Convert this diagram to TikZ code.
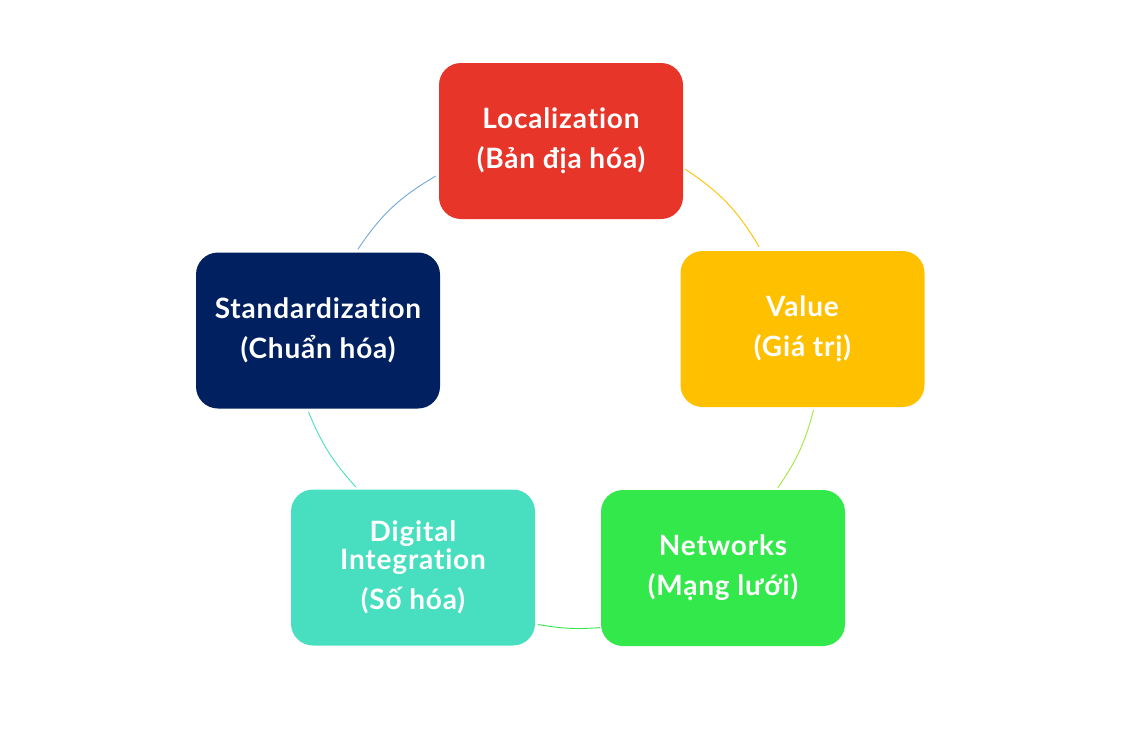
\documentclass[tikz,border=0pt]{standalone}
\usepackage{fontspec}
\setmainfont{Lato}[Ligatures=NoCommon, LetterSpace=3]
\usepackage{tikz}
\definecolor{locred}{HTML}{E8352A}
\definecolor{valyellow}{HTML}{FFC000}
\definecolor{netgreen}{HTML}{33E84A}
\definecolor{digteal}{HTML}{48DFC0}
\definecolor{stdnavy}{HTML}{002060}
\definecolor{arcblue}{HTML}{6FA8DC}
\definecolor{arclime}{HTML}{A2E83C}
\tikzset{
    phase/.style={
           rectangle,
           rounded corners=22pt,
           minimum width=244pt,
           minimum height=156pt,
           inner sep=2pt,
           text=white,
           align=center,
           font=\fontsize{28}{40}\selectfont\bfseries,
           },
    cycle/.style={
           line width=0.9pt,
           bend right=#1,
           },
}

\begin{document}
\begin{tikzpicture}[x=1pt,y=-1pt]
    \useasboundingbox (0,0) rectangle (1129,753);

    % Phase: top of the cycle
    \node[phase, fill=locred,  	% layout (defined above)
    anchor=center] (loc) at (561,141)
    {Localization\\(Bản địa hóa)};

    \node[phase, fill=valyellow,
    anchor=center] (val) at (802.5,329)
    {Value\\(Giá trị)};

    \node[phase, fill=netgreen,
    anchor=center] (net) at (723,568)
    {Networks\\(Mạng lưới)};

    \node[phase, fill=digteal,
    anchor=center] (dig) at (413,567.5)
    {Digital\\[-12pt]Integration\\(Số hóa)};

    \node[phase, fill=stdnavy,
    anchor=center] (std) at (318,330.5)
    {Standardization\\(Chuẩn hóa)};

    % thin arcs of the circle between the phases
    \path
        ([shift={(-3,0)}]loc.196) edge[cycle=13, draw=arcblue]
        ([shift={(0,-3)}]std.63)

        ([shift={(0,3)}]std.-97) edge[cycle=10, draw=digteal]
        ([shift={(0,-2)}]dig.126)

        ([shift={(3,0)}]dig.-25) edge[cycle=7, draw=netgreen]
        ([shift={(-1,0)}]net.206)

        ([shift={(0,-2)}]net.55) edge[cycle=10, draw=arclime]
        ([shift={(0,3)}]val.-82)

        ([shift={(0,-4)}]val.119) edge[cycle=13, draw=valyellow]
        ([shift={(2,0)}]loc.-13);
\end{tikzpicture}
\end{document}
